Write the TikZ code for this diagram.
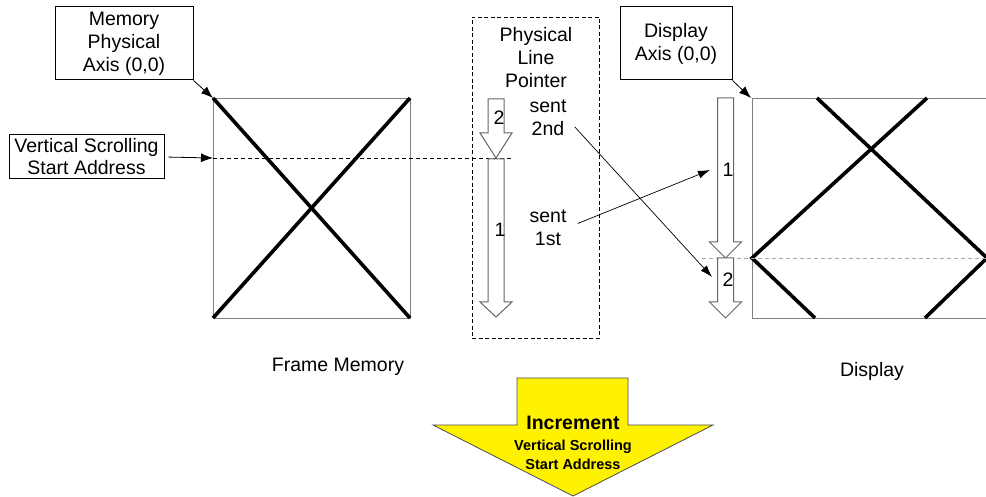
\documentclass[tikz,border=0pt]{standalone}
\usepackage{fontspec}
\setmainfont{Liberation Sans}
\usetikzlibrary{arrows.meta}
\begin{document}
\begin{tikzpicture}[x=1pt,y=-1pt,
  font=\fontsize{19.5}{23}\selectfont,
  lblbox/.style={draw=black, line width=1pt, fill=white, align=center, inner sep=0pt},
  txt/.style={align=center, inner sep=0pt},
  conn/.style={-{Latex[length=12pt,width=9pt]}, line width=0.8pt},
  frame/.style={draw=gray, line width=0.9pt},
  xline/.style={line width=3.6pt, line cap=butt},
  hollow/.style={draw=gray!80!black, line width=1pt, fill=white}
]
\useasboundingbox (0,0) rectangle (986,497);

% ---- label boxes
\node[lblbox, minimum width=138pt, minimum height=73pt] (mpa) at (124,43.5) {Memory\\Physical\\Axis (0,0)};
\node[lblbox, minimum width=155pt, minimum height=44pt, font=\fontsize{19.5}{22}\selectfont] (vssa) at (86.5,157) {Vertical Scrolling\\Start Address};
\node[lblbox, minimum width=112pt, minimum height=73pt] (dax) at (676,43.5) {Display\\Axis (0,0)};

% ---- frame memory
\coordinate (fmTL) at (213,98);
\coordinate (fmVS) at (213,158);
\draw[frame] (213,98) rectangle (410,318);
\draw[xline] (213,98) -- (410,318);
\draw[xline] (410,98) -- (213,318);
\draw[line width=0.8pt, dash pattern=on 4pt off 3pt] (fmVS) -- (511,158);

\draw[conn] (mpa.south east) -- (fmTL);
\draw[conn, shorten <=4pt] (vssa.east) -- (fmVS);

% ---- physical line pointer
\node[draw, line width=0.8pt, dash pattern=on 4pt off 2.5pt, minimum width=127pt, minimum height=321pt, inner sep=0pt] (plp) at (535.5,177.5) {};
\node[txt] (plpt) at (536,58) {Physical\\Line\\Pointer};

% hollow block arrows: center x, top, head start, tip
\newcommand{\hollowarrow}[4]{%
  \draw[hollow] (#1-8,#2) -- (#1+8,#2) -- (#1+8,#3) -- (#1+16,#3) -- (#1,#4) -- (#1-16,#3) -- (#1-8,#3) -- cycle;}
\hollowarrow{496}{99}{133}{158}
\hollowarrow{496}{159}{302}{317}
\node[txt] (m2) at (499,118) {2};
\node[txt] (m1) at (500,230) {1};

\node[txt] (s2) at (548,118) {sent\\2nd};
\node[txt] (s1) at (548,228) {sent\\1st};

% ---- display
\coordinate (dTL) at (751,98);
\draw[frame] (752,98) -- (990,98);
\draw[frame] (752,318) -- (990,318);
\draw[frame] (752,98) -- (752,318);
\draw[xline] (817,98) -- (987,258) -- (925,318);
\draw[xline] (927,98) -- (752,258) -- (815,318);
\draw[draw=gray!70, line width=0.9pt, dash pattern=on 4pt off 3pt] (702,258) -- (990,258);

\hollowarrow{725.5}{98}{242}{258}
\hollowarrow{725.5}{258}{302}{318}
\node[txt] (d1l) at (728,170) {1};
\node[txt] (d2l) at (728,280) {2};
\coordinate (d1) at (710,170);
\coordinate (d2) at (712,277);

\draw[conn] (dax.south east) -- (dTL);
\draw[-{Latex[length=12pt,width=8pt]}, line width=0.7pt, shorten <=12pt] (s2.east) -- (d2);
\draw[-{Latex[length=12pt,width=8pt]}, line width=0.7pt, shorten <=12pt] (s1.east) -- (d1);

\node[txt] (fm) at (338,367) {Frame Memory};
\node[txt] (dl) at (872,371) {Display};

% ---- yellow arrow
\draw[fill=yellow, draw=black!70, line width=0.8pt] (517,378) -- (628,378) -- (628,425) -- (713,425) -- (573,496) -- (433,425) -- (517,425) -- cycle;
\node[txt, font=\fontsize{19.5}{20}\selectfont\bfseries] (inc) at (573,423) {Increment};
\node[txt, font=\fontsize{14.5}{19.5}\selectfont\bfseries] (incs) at (573,455) {Vertical Scrolling\\Start Address};
\end{tikzpicture}
\end{document}
